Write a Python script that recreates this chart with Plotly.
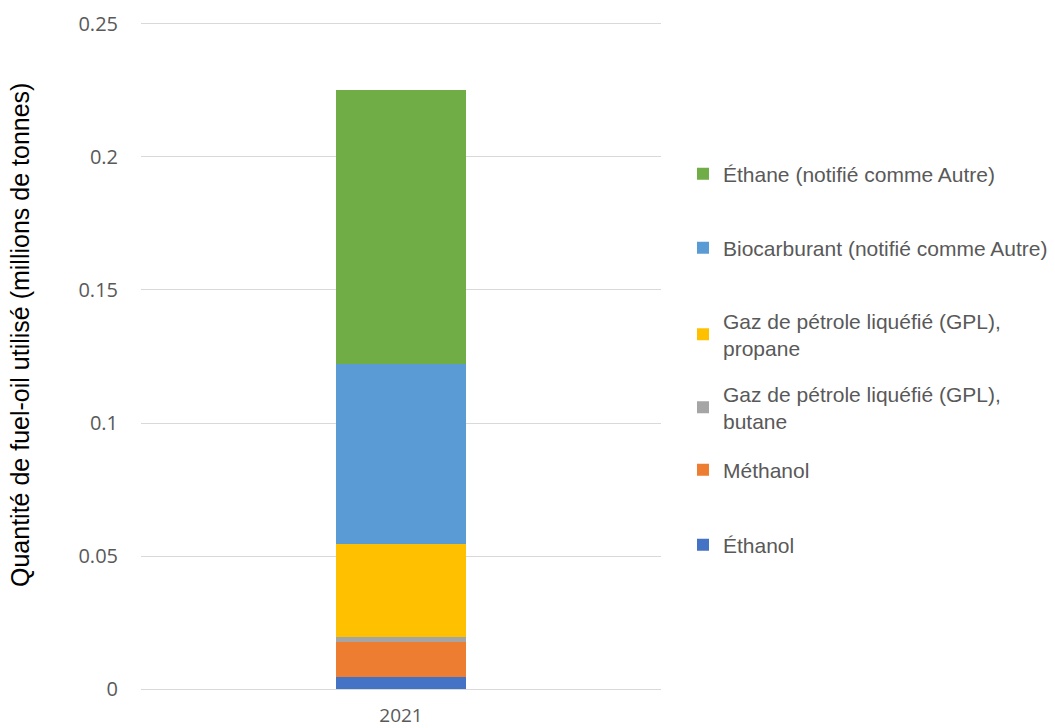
import plotly.graph_objects as go

categories = ["2021"]
series_names = [
    "Éthanol",
    "Méthanol",
    "Gaz de pétrole liquéfié (GPL),<br>butane",
    "Gaz de pétrole liquéfié (GPL),<br>propane",
    "Biocarburant (notifié comme Autre)",
    "Éthane (notifié comme Autre)",
]
series_values = [
    [0.0044],
    [0.0132],
    [0.0019],
    [0.0352],
    [0.0676],
    [0.1030],
]
colors = ["#4472C4", "#ED7D31", "#A5A5A5", "#FFC000", "#5B9BD5", "#70AD47"]
y_ticks = [0, 0.05, 0.1, 0.15, 0.2, 0.25]
y_tick_labels = ["0", "0.05", "0.1", "0.15", "0.2", "0.25"]
y_title = "Quantité de fuel-oil utilisé (millions de tonnes)"

# plot area in pixels: top 20, bottom 689 (height 669)
def py(ypx):
    return (689 - ypx) / 669.0

legend_centres_px = [545, 470, 407.5, 334.5, 248, 174]
legend_ids = ["legend", "legend2", "legend3", "legend4", "legend5", "legend6"]

fig = go.Figure()
for name, vals, col, lid in zip(series_names, series_values, colors, legend_ids):
    fig.add_trace(go.Bar(
        x=categories, y=vals, name=name,
        marker=dict(color=col, line=dict(width=0)),
        legend=lid,
    ))

legend_font = dict(family="Liberation Sans, Arial, sans-serif", size=21, color="#595959")
layout_legends = {}
for lid, lpx in zip(legend_ids, legend_centres_px):
    layout_legends[lid] = dict(
        x=1.0423, y=py(lpx), xanchor="left", yanchor="middle",
        font=legend_font, bgcolor="rgba(0,0,0,0)", borderwidth=0,
    )

fig.update_layout(
    width=1055, height=728,
    margin=dict(l=141, r=394, t=20, b=39, autoexpand=False),
    barmode="stack",
    bargap=0.75,
    plot_bgcolor="white",
    paper_bgcolor="white",
    showlegend=True,
    **layout_legends,
)
fig.add_annotation(
    text=y_title, textangle=-90, showarrow=False,
    xref="paper", yref="paper",
    x=(20 - 141) / 520.0, y=py(335), xanchor="center", yanchor="middle",
    font=dict(family="Liberation Sans, Arial, sans-serif", size=25, color="#000000"),
)
fig.update_yaxes(
    range=[0, 0.2515],
    tickvals=y_ticks, ticktext=y_tick_labels,
    showgrid=True, gridcolor="#D9D9D9", gridwidth=1,
    zeroline=False, showline=False, ticks="",
    ticklabelstandoff=22,
    tickfont=dict(family="Open Sans, sans-serif", size=20, color="#595959"),
    automargin=False,
)
fig.update_xaxes(
    showgrid=False, zeroline=False, showline=True, linecolor="#D9D9D9", linewidth=1,
    ticks="",
    ticklabelstandoff=9,
    tickfont=dict(family="Open Sans, sans-serif", size=19, color="#595959"),
    automargin=False,
)

fig.write_html("out.html")
